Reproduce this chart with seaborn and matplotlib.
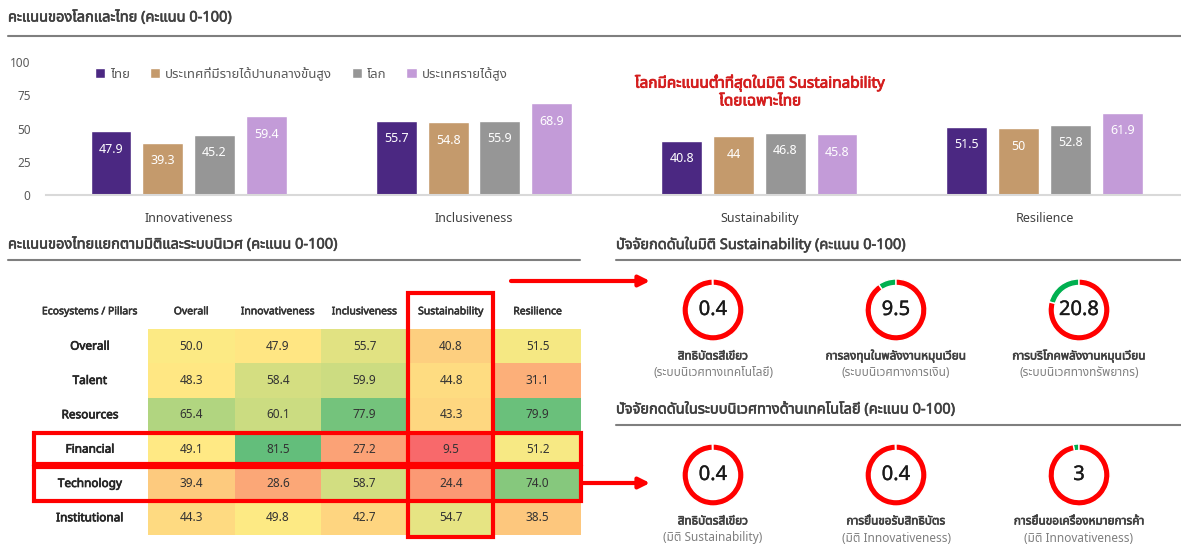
import numpy as np
import pandas as pd
import seaborn as sns
import matplotlib
matplotlib.use('Agg')
import matplotlib.pyplot as plt
import matplotlib.patheffects as pe
from matplotlib import font_manager
from matplotlib.ft2font import FT2Font
from matplotlib.colors import LinearSegmentedColormap, TwoSlopeNorm
from matplotlib.patches import Rectangle

W, H = 1181, 544

# bar chart data
pillars = ['Innovativeness', 'Inclusiveness', 'Sustainability', 'Resilience']
groups = ['ไทย', 'ประเทศที่มีรายได้ปานกลางขั้นสูง', 'โลก', 'ประเทศรายได้สูง']
thai = [47.9, 55.7, 40.8, 51.5]
upper_mid = [39.3, 54.8, 44, 50]
world = [45.2, 55.9, 46.8, 52.8]
high_inc = [59.4, 68.9, 45.8, 61.9]
bar_colors = ['#4B2882', '#C49A6C', '#969696', '#C39BD8']

# heatmap data
ecosystems = ['Overall', 'Talent', 'Resources', 'Financial', 'Technology', 'Institutional']
hm_cols = ['Overall', 'Innovativeness', 'Inclusiveness', 'Sustainability', 'Resilience']
row_overall = [50.0, 47.9, 55.7, 40.8, 51.5]
row_talent = [48.3, 58.4, 59.9, 44.8, 31.1]
row_resources = [65.4, 60.1, 77.9, 43.3, 79.9]
row_financial = [49.1, 81.5, 27.2, 9.5, 51.2]
row_technology = [39.4, 28.6, 58.7, 24.4, 74.0]
row_institutional = [44.3, 49.8, 42.7, 54.7, 38.5]

# donut data
sust_labels = ['สิทธิบัตรสีเขียว', 'การลงทุนในพลังงานหมุนเวียน', 'การบริโภคพลังงานหมุนเวียน']
sust_subs = ['(ระบบนิเวศทางเทคโนโลยี)', '(ระบบนิเวศทางการเงิน)', '(ระบบนิเวศทางทรัพยากร)']
sust_values = [0.4, 9.5, 20.8]
tech_labels = ['สิทธิบัตรสีเขียว', 'การยื่นขอรับสิทธิบัตร', 'การยื่นขอเครื่องหมายการค้า']
tech_subs = ['(มิติ Sustainability)', '(มิติ Innovativeness)', '(มิติ Innovativeness)']
tech_values = [0.4, 0.4, 3]


# look for a font that actually has Thai glyphs
def find_thai_font():
    found = []
    for f in font_manager.fontManager.ttflist:
        try:
            if 0x0E01 in FT2Font(f.fname).get_charmap():
                found.append(f.name)
        except Exception:
            pass
    for pref in ['Noto Sans Thai', 'Noto Sans Thai UI', 'Loma', 'Garuda', 'Waree', 'Sarabun', 'Umpush']:
        if pref in found:
            return pref
    return found[0] if found else None


sns.set_theme(style='white')
thai_font = find_thai_font()
plt.rcParams['font.family'] = [thai_font, 'DejaVu Sans'] if thai_font else ['DejaVu Sans']


# the Thai font has no bold face, so thicken strokes instead
def fake_bold(color, w=0.55):
    return [pe.withStroke(linewidth=w, foreground=color)]


fig = plt.figure(figsize=(W / 100, H / 100), dpi=100)


def px_axes(x0, y0, x1, y1):
    return fig.add_axes([x0 / W, 1 - y1 / H, (x1 - x0) / W, (y1 - y0) / H])


# ---- top bar chart ----
df = pd.DataFrame({'pillar': pillars * 4,
                   'group': np.repeat(groups, 4),
                   'score': thai + upper_mid + world + high_inc})
ax = px_axes(46, 62, 1181, 195)
sns.barplot(data=df, x='pillar', y='score', hue='group', palette=bar_colors,
            width=0.726, gap=0.21, saturation=1, errorbar=None, ax=ax)
for cont in ax.containers:
    for p in cont:
        h = p.get_height()
        ax.annotate(f'{h:g}', (p.get_x() + p.get_width() / 2, h), xytext=(0, -13),
                    textcoords='offset points', ha='center', va='center',
                    color='white', fontsize=9)
ax.set_ylim(0, 100)
ax.set_xlim(-0.5, 3.478)
ax.set_yticks([0, 25, 50, 75, 100])
ax.set_xlabel('')
ax.set_ylabel('')
for s in ['top', 'left', 'right']:
    ax.spines[s].set_visible(False)
ax.spines['bottom'].set_color('#d9d9d9')
ax.spines['bottom'].set_linewidth(1.5)
ax.tick_params(axis='y', length=0, pad=11, labelsize=8.5, labelcolor='#595959')
ax.tick_params(axis='x', length=0, pad=12, labelsize=9, labelcolor='#404040')
ax.patch.set_alpha(0)
ax.legend(loc='center left', bbox_to_anchor=(0.043, 0.91), ncol=4, frameon=False,
          handlelength=0.8, handleheight=0.8, handletextpad=0.35, columnspacing=1.5,
          borderpad=0, borderaxespad=0, fontsize=9.5, labelcolor='#595959')

# ---- heatmap ----
hm_df = pd.DataFrame([row_overall, row_talent, row_resources, row_financial,
                      row_technology, row_institutional], index=ecosystems, columns=hm_cols)
ax_hm = px_axes(148, 329, 581, 535)
cmap = LinearSegmentedColormap.from_list('ryg', ['#F8696B', '#FFEB84', '#63BE7B'])
vals = hm_df.values
norm = TwoSlopeNorm(vmin=vals.min(), vcenter=np.percentile(vals, 50), vmax=vals.max())
sns.heatmap(hm_df, ax=ax_hm, cmap=cmap, norm=norm, annot=True, fmt='.1f',
            annot_kws={'color': '#333333', 'fontsize': 8.5}, cbar=False,
            xticklabels=False, yticklabels=False)
ax_hm.set_xlabel('')
ax_hm.set_ylabel('')
for j, c in enumerate(hm_cols):
    ax_hm.text(j + 0.5, -0.5, c, ha='center', va='center', fontsize=7.5,
               color='#333333', path_effects=fake_bold('#333333', 0.4))
ax_hm.text(-0.67, -0.5, 'Ecosystems / Pillars', ha='center', va='center', fontsize=7.5,
           color='#333333', path_effects=fake_bold('#333333', 0.4))
for i, r in enumerate(ecosystems):
    ax_hm.text(-0.67, i + 0.5, r, ha='center', va='center', fontsize=8.5,
               color='#262626', path_effects=fake_bold('#262626', 0.5))
box_kw = dict(fill=False, edgecolor='#FF0000', linewidth=3, clip_on=False, zorder=5)
ax_hm.add_patch(Rectangle((3.0, -1.05), 0.98, 7.1, **box_kw))
ax_hm.add_patch(Rectangle((-1.32, 3.02), 6.32, 0.92, **box_kw))
ax_hm.add_patch(Rectangle((-1.32, 4.03), 6.32, 0.97, **box_kw))

# ---- overlay for titles, lines, arrows ----
over = fig.add_axes([0, 0, 1, 1], zorder=10)
over.set_xlim(0, W)
over.set_ylim(H, 0)
over.axis('off')
over.patch.set_alpha(0)

title_kw = dict(ha='left', va='center', fontsize=10.5, color='#404040',
                path_effects=fake_bold('#404040', 0.45))
over.text(8, 18, 'คะแนนของโลกและไทย (คะแนน 0-100)', **title_kw)
over.plot([8, 1181], [36, 36], color='#7f7f7f', lw=1.5)
over.text(8, 245, 'คะแนนของไทยแยกตามมิติและระบบนิเวศ (คะแนน 0-100)', **title_kw)
over.plot([8, 580], [260, 260], color='#7f7f7f', lw=1.5)
over.text(616, 245, 'ปัจจัยกดดันในมิติ Sustainability (คะแนน 0-100)', **title_kw)
over.plot([616, 1181], [260, 260], color='#7f7f7f', lw=1.5)
over.text(616, 410, 'ปัจจัยกดดันในระบบนิเวศทางด้านเทคโนโลยี (คะแนน 0-100)', **title_kw)
over.plot([616, 1181], [425, 425], color='#7f7f7f', lw=1.5)

over.text(760, 92, 'โลกมีคะแนนต่ำที่สุดในมิติ Sustainability\nโดยเฉพาะไทย', ha='center',
          va='center', fontsize=11, color='#D41E1E', linespacing=1.25,
          path_effects=fake_bold('#D41E1E', 0.6))

arrow_kw = dict(arrowstyle='-|>', color='#FF0000', lw=3, mutation_scale=16, shrinkA=0, shrinkB=0)
over.annotate('', xy=(650, 281), xytext=(511, 281), arrowprops=arrow_kw)
over.annotate('', xy=(650, 483), xytext=(581, 483), arrowprops=arrow_kw)


# ---- donuts ----
def donut(cx, cy, value, label, sub):
    a = px_axes(cx - 36, cy - 36, cx + 36, cy + 36)
    a.pie([value, 100 - value], colors=['#00B050', '#FF0000'], startangle=90,
          counterclock=True, radius=1,
          wedgeprops=dict(width=0.21, edgecolor='white', linewidth=1))
    a.set_xlim(-1.16, 1.16)
    a.set_ylim(-1.16, 1.16)
    a.set_aspect('equal')
    a.text(0, 0, f'{value:g}', ha='center', va='center', fontsize=14.5, color='#1a1a1a',
           path_effects=fake_bold('#1a1a1a', 0.25))
    over.text(cx, cy + 46, label, ha='center', va='center', fontsize=8.5,
              color='#404040', path_effects=fake_bold('#404040', 0.45))
    over.text(cx, cy + 63, sub, ha='center', va='center', fontsize=8.5, color='#7f7f7f')


for k in range(3):
    donut(713 + 183 * k, 310, sust_values[k], sust_labels[k], sust_subs[k])
    donut(713 + 183 * k, 475, tech_values[k], tech_labels[k], tech_subs[k])

fig.savefig('out.png', dpi=100)
